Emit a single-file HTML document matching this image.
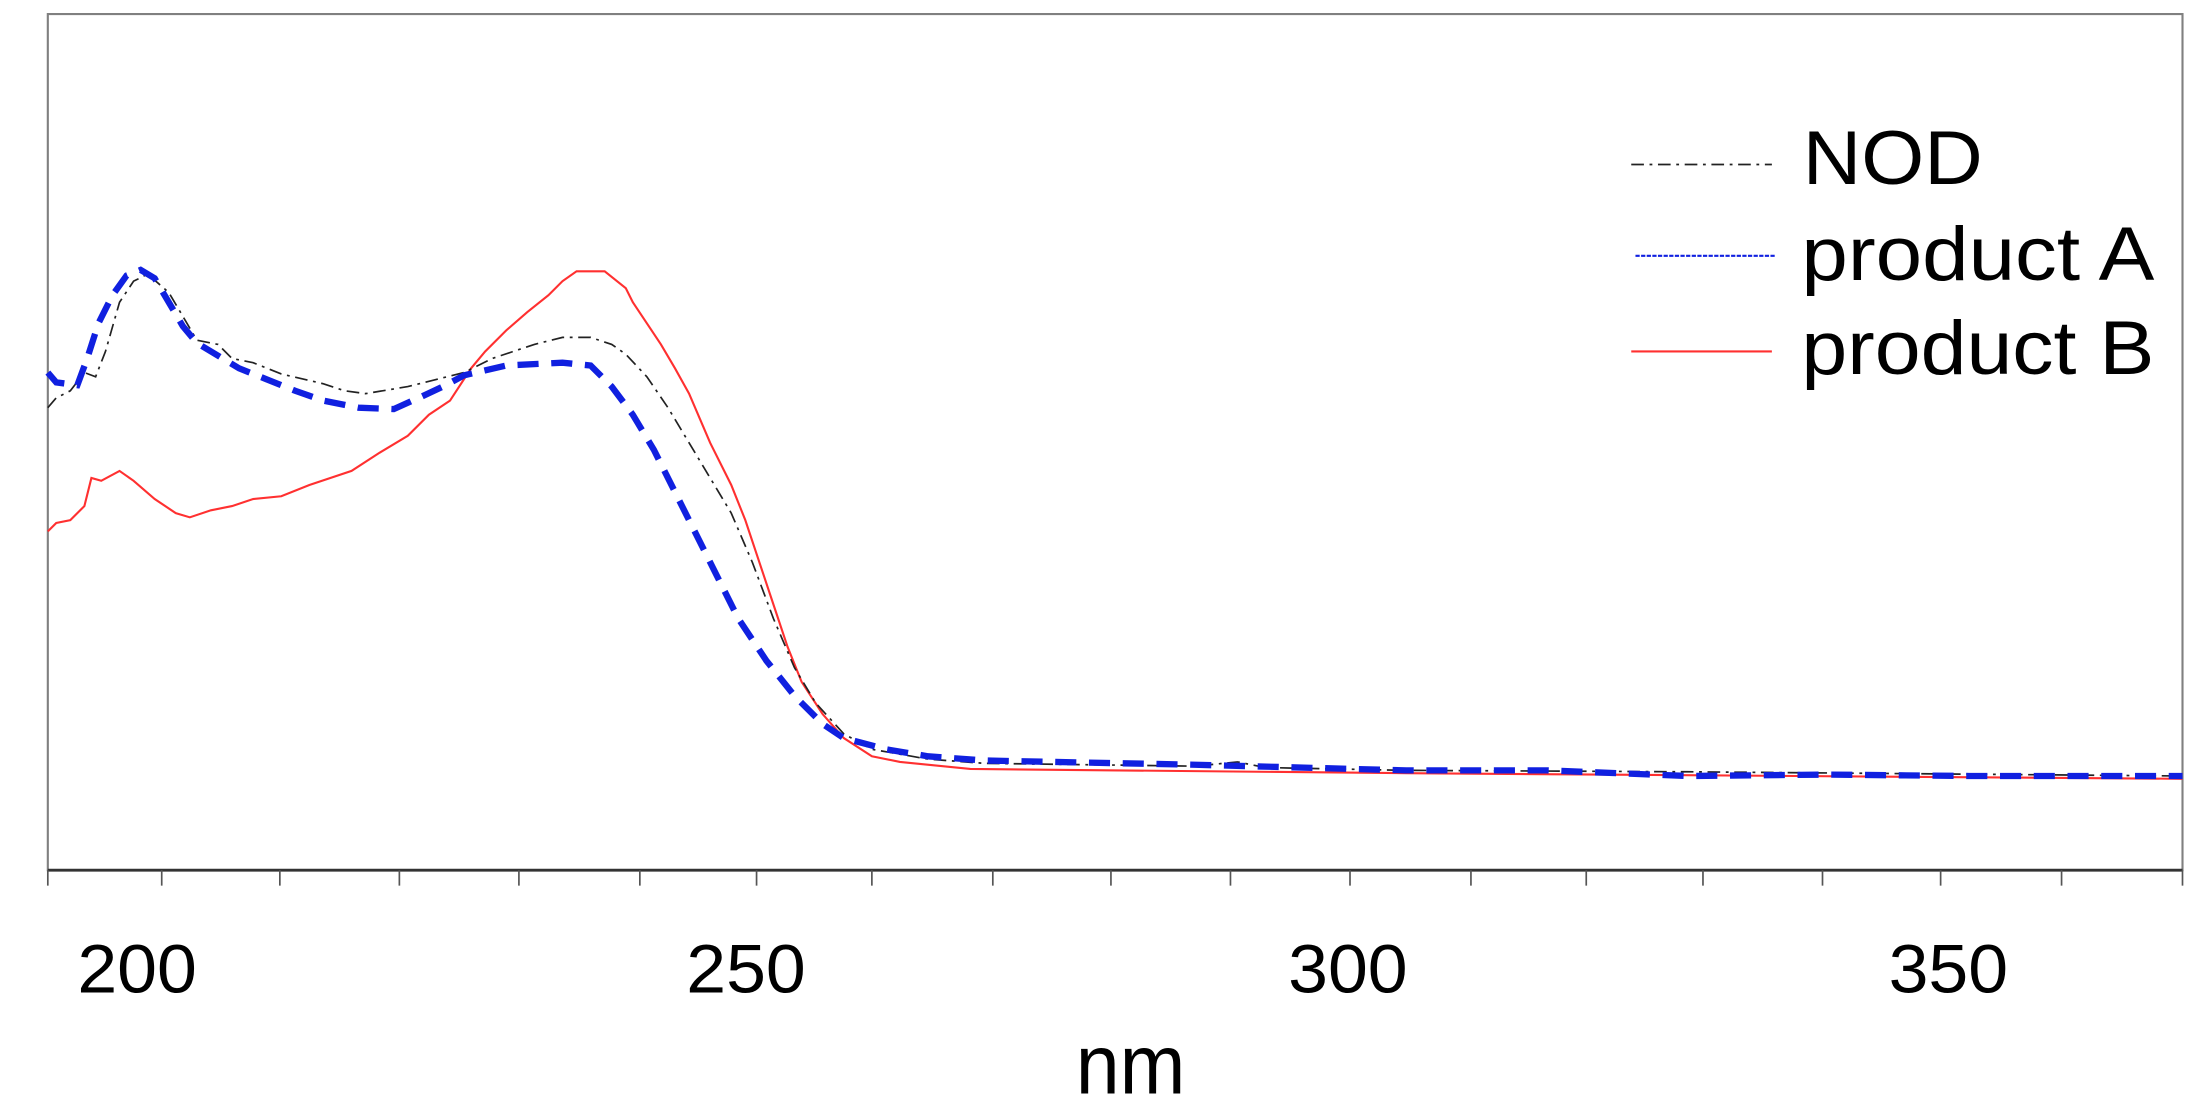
<!DOCTYPE html>
<html><head><style>html,body{margin:0;padding:0;background:#fff;width:2205px;height:1119px;overflow:hidden}</style></head>
<body>
<svg width="2205" height="1119" viewBox="0 0 1568 796" preserveAspectRatio="none" xmlns="http://www.w3.org/2000/svg">
<rect x="0" y="0" width="1568" height="796" fill="#fff"/>
<rect x="34" y="10" width="1518" height="609" fill="none" stroke="#808080" stroke-width="1.5"/>
<line x1="34" y1="619" x2="1552" y2="619" stroke="#333" stroke-width="2"/>
<g stroke="#555" stroke-width="1.2">
<line x1="34" y1="619" x2="34" y2="630"/><line x1="115" y1="619" x2="115" y2="630"/><line x1="199" y1="619" x2="199" y2="630"/><line x1="284" y1="619" x2="284" y2="630"/><line x1="369" y1="619" x2="369" y2="630"/><line x1="455" y1="619" x2="455" y2="630"/><line x1="538" y1="619" x2="538" y2="630"/><line x1="620" y1="619" x2="620" y2="630"/><line x1="706" y1="619" x2="706" y2="630"/><line x1="790" y1="619" x2="790" y2="630"/><line x1="875" y1="619" x2="875" y2="630"/><line x1="960" y1="619" x2="960" y2="630"/><line x1="1046" y1="619" x2="1046" y2="630"/><line x1="1128" y1="619" x2="1128" y2="630"/><line x1="1211" y1="619" x2="1211" y2="630"/><line x1="1296" y1="619" x2="1296" y2="630"/><line x1="1380" y1="619" x2="1380" y2="630"/><line x1="1466" y1="619" x2="1466" y2="630"/><line x1="1552" y1="619" x2="1552" y2="630"/>
</g>
<g font-family="Liberation Sans, sans-serif" font-size="49" fill="#000">
<text x="55" y="706" textLength="85" lengthAdjust="spacingAndGlyphs">200</text>
<text x="488" y="706" textLength="85" lengthAdjust="spacingAndGlyphs">250</text>
<text x="916" y="706" textLength="85" lengthAdjust="spacingAndGlyphs">300</text>
<text x="1343" y="706" textLength="85" lengthAdjust="spacingAndGlyphs">350</text>
<text x="765" y="778" font-size="60" textLength="78" lengthAdjust="spacingAndGlyphs">nm</text>
</g>
<polyline fill="none" stroke="#ff3030" stroke-width="1.5" points="34,378 40,372 50,370 60,360 65,340 72,342 85,335 95,342 110,355 125,365 135,368 150,363 165,360 180,355 200,353 220,345 250,335 270,322 290,310 305,295 320,285 335,262 345,250 360,235 375,222 390,210 400,200 410,193 430,193 445,205 450,215 460,230 470,245 480,262 490,280 505,315 520,345 530,370 540,400 550,430 560,460 570,485 585,508 600,525 620,538 640,542 690,547 1000,550 1552,554"/>
<polyline fill="none" stroke="#222" stroke-width="1.2" stroke-dasharray="9,4,2,4" points="34,290 40,283 50,278 60,265 68,268 75,250 85,215 95,200 105,195 120,208 130,225 140,242 155,245 165,255 180,258 200,266 230,273 245,278 260,280 290,275 310,270 330,265 350,255 380,245 400,240 420,240 435,245 445,252 460,268 475,290 490,315 505,340 520,365 535,400 550,440 565,475 580,500 600,522 620,533 660,540 700,543 850,545 880,542 900,546 1000,548 1200,549 1552,552"/>
<polyline fill="none" stroke="#1020e0" stroke-width="4.5" stroke-dasharray="15,9" points="34,265 40,272 55,274 62,255 70,230 80,210 90,196 100,192 110,198 120,215 130,232 140,244 150,250 170,262 190,270 210,278 230,285 255,290 280,291 300,282 315,275 330,267 360,260 400,258 420,260 435,275 450,295 465,320 480,350 495,380 510,410 525,440 545,470 565,495 585,515 600,525 630,533 660,538 700,541 850,544 1000,548 1100,548 1200,552 1300,551 1400,552 1552,552"/>
<line x1="1160" y1="117" x2="1260" y2="117" stroke="#222" stroke-width="1.2" stroke-dasharray="9,4,2,4"/>
<line x1="1163" y1="182" x2="1263" y2="182" stroke="#1020e0" stroke-width="1.5" stroke-dasharray="3,1"/>
<line x1="1160" y1="250" x2="1260" y2="250" stroke="#ff3030" stroke-width="1.5"/>
<g font-family="Liberation Sans, sans-serif" font-size="54" fill="#000">
<text x="1282" y="131" textLength="128" lengthAdjust="spacingAndGlyphs">NOD</text>
<text x="1281" y="199" textLength="251" lengthAdjust="spacingAndGlyphs">product A</text>
<text x="1281" y="266" textLength="251" lengthAdjust="spacingAndGlyphs">product B</text>
</g>
</svg>
</body></html>
